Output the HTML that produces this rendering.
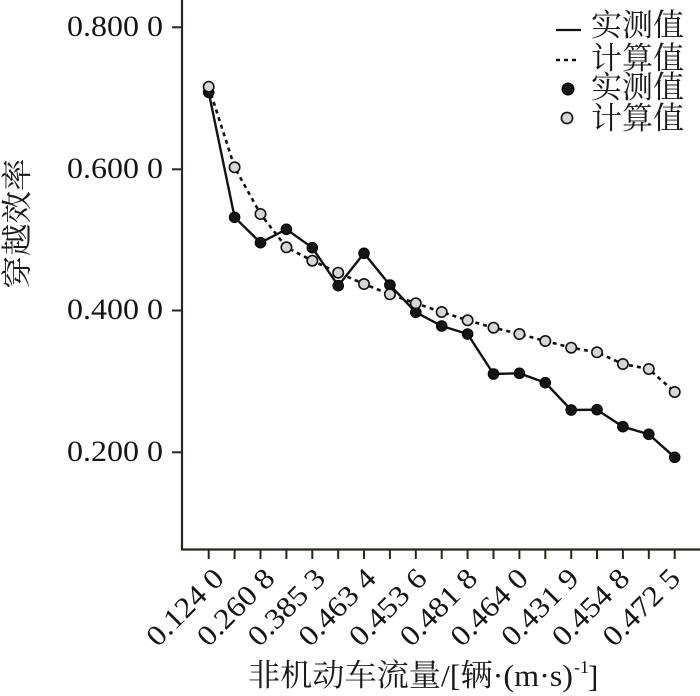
<!DOCTYPE html>
<html>
<head>
<meta charset="utf-8">
<style>
  html, body { margin:0; padding:0; background:#fff; }
  svg { display:block; }
  .num { font-family: "Liberation Serif", serif; fill:#151515; }
  .cjk { font-family: "Liberation Serif", "Noto Serif CJK SC", "Noto Sans CJK SC", serif; fill:#1a1a1a; }
</style>
</head>
<body>
<svg width="700" height="696" viewBox="0 0 700 696" xmlns="http://www.w3.org/2000/svg">
  <rect x="0" y="0" width="700" height="696" fill="#fff"/>

  <!-- axes -->
  <line x1="182" y1="0" x2="182" y2="550.5" stroke="#2a2420" stroke-width="2.2"/>
  <line x1="181" y1="549.5" x2="700" y2="549.5" stroke="#2a2420" stroke-width="2.2"/>

  <!-- y ticks -->
  <g stroke="#2a2420" stroke-width="2">
    <line x1="172" y1="27.3" x2="182" y2="27.3"/>
    <line x1="172" y1="169.3" x2="182" y2="169.3"/>
    <line x1="172" y1="310.5" x2="182" y2="310.5"/>
    <line x1="172" y1="452.3" x2="182" y2="452.3"/>
  </g>

  <!-- y tick labels -->
  <g class="num" font-size="30" text-anchor="end">
    <text x="163" y="35.8" textLength="96" lengthAdjust="spacingAndGlyphs">0.800 0</text>
    <text x="163" y="177.8" textLength="96" lengthAdjust="spacingAndGlyphs">0.600 0</text>
    <text x="163" y="319" textLength="96" lengthAdjust="spacingAndGlyphs">0.400 0</text>
    <text x="163" y="460.8" textLength="96" lengthAdjust="spacingAndGlyphs">0.200 0</text>
  </g>

  <!-- x ticks -->
  <g stroke="#2a2420" stroke-width="2">
    <line x1="208.7" y1="549" x2="208.7" y2="559"/>
    <line x1="234.6" y1="549" x2="234.6" y2="559"/>
    <line x1="260.5" y1="549" x2="260.5" y2="559"/>
    <line x1="286.4" y1="549" x2="286.4" y2="559"/>
    <line x1="312.3" y1="549" x2="312.3" y2="559"/>
    <line x1="338.2" y1="549" x2="338.2" y2="559"/>
    <line x1="364.0" y1="549" x2="364.0" y2="559"/>
    <line x1="389.9" y1="549" x2="389.9" y2="559"/>
    <line x1="415.8" y1="549" x2="415.8" y2="559"/>
    <line x1="441.7" y1="549" x2="441.7" y2="559"/>
    <line x1="467.6" y1="549" x2="467.6" y2="559"/>
    <line x1="493.5" y1="549" x2="493.5" y2="559"/>
    <line x1="519.4" y1="549" x2="519.4" y2="559"/>
    <line x1="545.3" y1="549" x2="545.3" y2="559"/>
    <line x1="571.2" y1="549" x2="571.2" y2="559"/>
    <line x1="597.0" y1="549" x2="597.0" y2="559"/>
    <line x1="622.9" y1="549" x2="622.9" y2="559"/>
    <line x1="648.8" y1="549" x2="648.8" y2="559"/>
    <line x1="674.7" y1="549" x2="674.7" y2="559"/>
  </g>

  <!-- x tick labels (rotated) -->
  <g class="num" font-size="29" text-anchor="end">
    <text transform="translate(225.6,580) rotate(-45)" textLength="96" lengthAdjust="spacingAndGlyphs">0.124 0</text>
    <text transform="translate(276.3,580) rotate(-45)" textLength="96" lengthAdjust="spacingAndGlyphs">0.260 8</text>
    <text transform="translate(327.0,580) rotate(-45)" textLength="96" lengthAdjust="spacingAndGlyphs">0.385 3</text>
    <text transform="translate(377.7,580) rotate(-45)" textLength="96" lengthAdjust="spacingAndGlyphs">0.463 4</text>
    <text transform="translate(428.4,580) rotate(-45)" textLength="96" lengthAdjust="spacingAndGlyphs">0.453 6</text>
    <text transform="translate(479.1,580) rotate(-45)" textLength="96" lengthAdjust="spacingAndGlyphs">0.481 8</text>
    <text transform="translate(529.8,580) rotate(-45)" textLength="96" lengthAdjust="spacingAndGlyphs">0.464 0</text>
    <text transform="translate(580.5,580) rotate(-45)" textLength="96" lengthAdjust="spacingAndGlyphs">0.431 9</text>
    <text transform="translate(631.2,580) rotate(-45)" textLength="96" lengthAdjust="spacingAndGlyphs">0.454 8</text>
    <text transform="translate(681.9,580) rotate(-45)" textLength="96" lengthAdjust="spacingAndGlyphs">0.472 5</text>
  </g>

  <!-- axis titles -->
  <text class="cjk" font-size="31" text-anchor="middle" transform="translate(28,223.5) rotate(-90)" textLength="130" lengthAdjust="spacingAndGlyphs">穿越效率</text>

  <text class="cjk" x="248" y="686" font-size="31" textLength="325" lengthAdjust="spacingAndGlyphs">非机动车流量/[辆·(m·s)</text>
  <text class="num" x="574" y="673" font-size="18">-1</text>
  <text class="num" x="588" y="687" font-size="31">]</text>

  <!-- series lines -->
  <path d="M208.7,92.3 L234.6,217.3 L260.5,242.7 L286.4,229.3 L312.3,247.7 L338.2,285.7 L364.0,253.3 L389.9,285 L415.8,312.3 L441.7,326 L467.6,334 L493.5,374 L519.4,373.3 L545.3,382.7 L571.2,410 L597.0,409.7 L622.9,426.7 L648.8,434.3 L674.7,457.3"
        fill="none" stroke="#111" stroke-width="2.4" stroke-linejoin="round"/>
  <path d="M208.7,86.7 L234.6,167.3 L260.5,214 L286.4,247.3 L312.3,260.7 L338.2,272.7 L364.0,284 L389.9,294.3 L415.8,303.3 L441.7,312 L467.6,320.3 L493.5,327.7 L519.4,334 L545.3,341 L571.2,347.7 L597.0,352.3 L622.9,364 L648.8,369 L674.7,392"
        fill="none" stroke="#111" stroke-width="2.6" stroke-dasharray="4 4"/>

  <!-- black markers -->
  <g fill="#151515" stroke="#000" stroke-width="1">
    <circle cx="208.7" cy="92.3" r="5.3"/>
    <circle cx="234.6" cy="217.3" r="5.3"/>
    <circle cx="260.5" cy="242.7" r="5.3"/>
    <circle cx="286.4" cy="229.3" r="5.3"/>
    <circle cx="312.3" cy="247.7" r="5.3"/>
    <circle cx="338.2" cy="285.7" r="5.3"/>
    <circle cx="364.0" cy="253.3" r="5.3"/>
    <circle cx="389.9" cy="285" r="5.3"/>
    <circle cx="415.8" cy="312.3" r="5.3"/>
    <circle cx="441.7" cy="326" r="5.3"/>
    <circle cx="467.6" cy="334" r="5.3"/>
    <circle cx="493.5" cy="374" r="5.3"/>
    <circle cx="519.4" cy="373.3" r="5.3"/>
    <circle cx="545.3" cy="382.7" r="5.3"/>
    <circle cx="571.2" cy="410" r="5.3"/>
    <circle cx="597.0" cy="409.7" r="5.3"/>
    <circle cx="622.9" cy="426.7" r="5.3"/>
    <circle cx="648.8" cy="434.3" r="5.3"/>
    <circle cx="674.7" cy="457.3" r="5.3"/>
  </g>

  <!-- gray markers -->
  <g fill="#d6d6d6" stroke="#111" stroke-width="1.6">
    <circle cx="208.7" cy="86.7" r="5.2"/>
    <circle cx="234.6" cy="167.3" r="5.2"/>
    <circle cx="260.5" cy="214" r="5.2"/>
    <circle cx="286.4" cy="247.3" r="5.2"/>
    <circle cx="312.3" cy="260.7" r="5.2"/>
    <circle cx="338.2" cy="272.7" r="5.2"/>
    <circle cx="364.0" cy="284" r="5.2"/>
    <circle cx="389.9" cy="294.3" r="5.2"/>
    <circle cx="415.8" cy="303.3" r="5.2"/>
    <circle cx="441.7" cy="312" r="5.2"/>
    <circle cx="467.6" cy="320.3" r="5.2"/>
    <circle cx="493.5" cy="327.7" r="5.2"/>
    <circle cx="519.4" cy="334" r="5.2"/>
    <circle cx="545.3" cy="341" r="5.2"/>
    <circle cx="571.2" cy="347.7" r="5.2"/>
    <circle cx="597.0" cy="352.3" r="5.2"/>
    <circle cx="622.9" cy="364" r="5.2"/>
    <circle cx="648.8" cy="369" r="5.2"/>
    <circle cx="674.7" cy="392" r="5.2"/>
  </g>

  <!-- legend -->
  <line x1="556" y1="30" x2="581" y2="30" stroke="#111" stroke-width="2.2"/>
  <line x1="556" y1="60" x2="580" y2="60" stroke="#111" stroke-width="2.4" stroke-dasharray="4 4"/>
  <circle cx="568" cy="89" r="6" fill="#151515" stroke="#000" stroke-width="1"/>
  <circle cx="567" cy="118" r="5.6" fill="#d6d6d6" stroke="#111" stroke-width="1.6"/>
  <g class="cjk" font-size="31">
    <text x="591" y="36" textLength="93" lengthAdjust="spacingAndGlyphs">实测值</text>
    <text x="591" y="69" textLength="93" lengthAdjust="spacingAndGlyphs">计算值</text>
    <text x="591" y="98" textLength="93" lengthAdjust="spacingAndGlyphs">实测值</text>
    <text x="591" y="129" textLength="93" lengthAdjust="spacingAndGlyphs">计算值</text>
  </g>
</svg>
</body>
</html>
